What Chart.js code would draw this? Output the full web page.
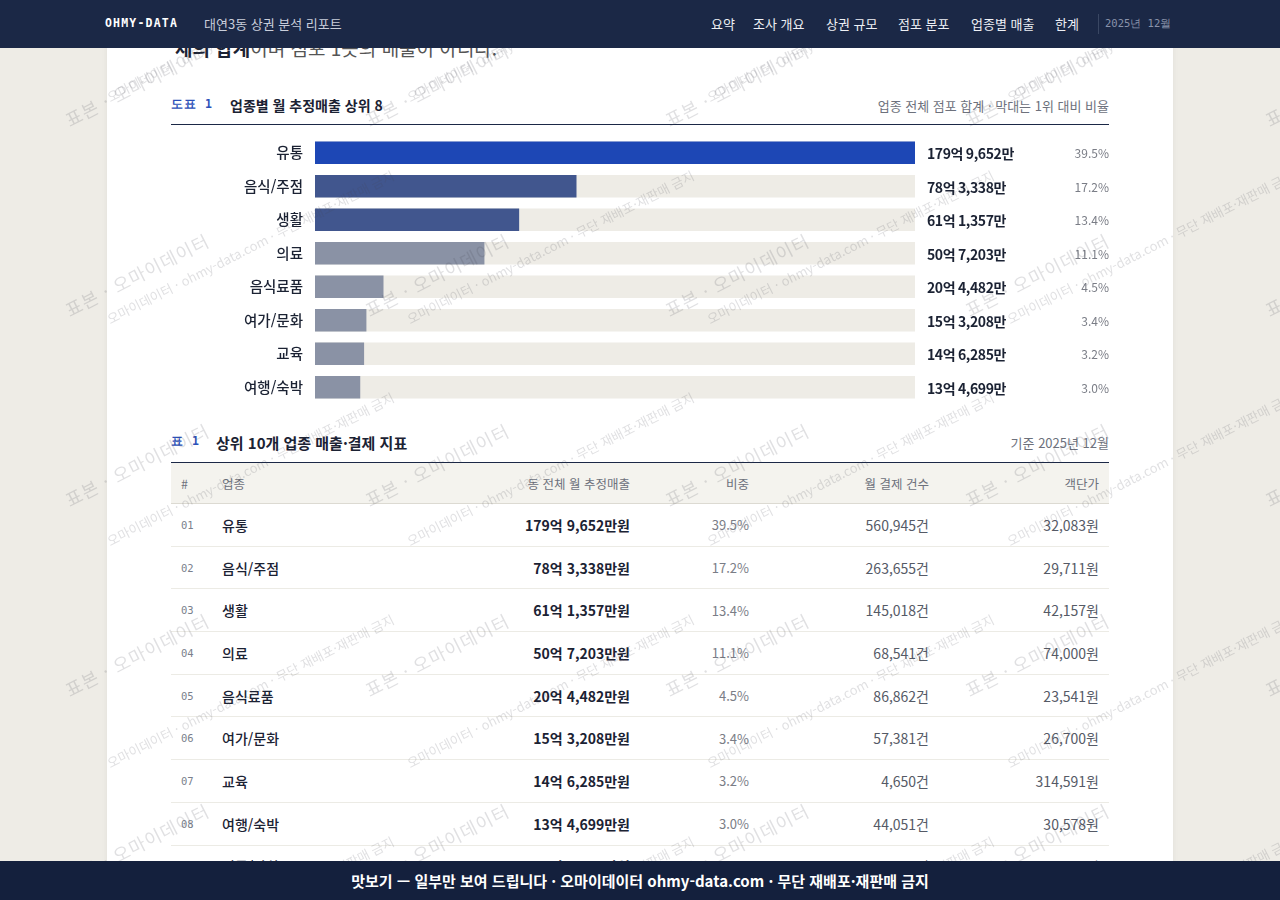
<!DOCTYPE html>
<html lang="ko">
<head>
<meta charset="utf-8">
<script src="https://cdn.jsdelivr.net/npm/chart.js@4.4.1/dist/chart.umd.min.js"></script>
<style>
  html,body{margin:0;padding:0;width:1280px;height:900px;overflow:hidden;background:#eeece6;
    font-family:"Noto Sans CJK KR","Noto Sans",sans-serif;color:#1b2233;}
  .card{position:absolute;left:107px;top:0;width:1066px;height:1400px;background:#fff;box-shadow:0 0 6px rgba(0,0,0,0.06);}
  .hdr{position:fixed;left:0;top:0;width:1280px;height:48px;background:#1b2846;z-index:10;}
  .hdr .brand{position:absolute;left:105px;top:16px;font-family:"DejaVu Sans Mono",monospace;font-weight:bold;font-size:11.5px;letter-spacing:1.2px;color:#fff;}
  .hdr .sub{position:absolute;left:204px;top:14px;font-size:13px;color:#c9cedb;}
  .hdr .nav{position:absolute;top:14px;font-size:13px;color:#eef0f5;}
  .hdr .sep{position:absolute;left:1098px;top:14px;width:1px;height:20px;background:#3a4763;}
  .hdr .date{position:absolute;left:1105px;top:17px;font-family:"DejaVu Sans Mono",monospace;font-size:10.5px;color:#8a93aa;}
  .ftr{position:fixed;left:0;top:861px;width:1280px;height:39px;background:#14203d;z-index:10;
    color:#fff;font-weight:bold;font-size:15px;text-align:center;line-height:39px;}
  .lead{position:absolute;left:175px;top:34px;font-size:19px;color:#555;z-index:1;}
  .lead b{color:#1b2233;}
  .ttl{position:absolute;left:171px;width:938px;height:20px;}
  .ttl .tag{position:absolute;left:0;top:2px;font-family:"DejaVu Sans Mono",monospace;font-size:11.5px;font-weight:600;color:#2c50b8;letter-spacing:1px;}
  .ttl .name{position:absolute;top:0;font-size:14px;font-weight:bold;color:#1b2233;}
  .ttl .note{position:absolute;right:0;top:1px;font-size:13px;color:#6d717c;}
  .rule{position:absolute;left:171px;width:938px;height:1px;background:#1b2846;}
  #chartBox{position:absolute;left:171px;top:136px;width:938px;height:268px;}
  table{position:absolute;left:171px;top:463px;width:938px;border-collapse:collapse;table-layout:fixed;}
  th{height:40px;background:#f4f3ee;font-weight:normal;font-size:12.5px;color:#6d717c;padding:0 10px;border-bottom:1px solid #dcdad2;}
  td{height:41.7px;padding:0 10px;border-bottom:1px solid #ecebe5;font-size:14px;}
  .l{text-align:left}.r{text-align:right}
  td.no{font-family:"DejaVu Sans Mono",monospace;font-size:10.5px;color:#7a7f8c;}
  td.nm{font-weight:500;color:#1b2233;}
  td.amt{font-weight:bold;color:#1b2233;}
  td.pct{color:#7a7d86;font-size:13px;}
  td.cnt,td.avg{color:#555a66;}
  #wm{position:fixed;left:0;top:0;width:1280px;height:900px;pointer-events:none;z-index:5;overflow:hidden;}
  #wm span{position:absolute;white-space:nowrap;transform-origin:0 100%;transform:rotate(-27deg);color:rgba(70,70,85,0.17);}
  #wm .big{font-size:18px;letter-spacing:1px;}
  #wm .small{font-size:13px;}
</style>
</head>
<body>
<div class="card"></div>
<div class="hdr">
  <div class="brand">OHMY-DATA</div>
  <div class="sub">대연3동 상권 분석 리포트</div>
  <div class="nav" style="left:711px">요약</div>
  <div class="nav" style="left:753px">조사 개요</div>
  <div class="nav" style="left:826px">상권 규모</div>
  <div class="nav" style="left:898px">점포 분포</div>
  <div class="nav" style="left:971px">업종별 매출</div>
  <div class="nav" style="left:1055px">한계</div>
  <div class="sep"></div>
  <div class="date">2025년 12월</div>
</div>
<div class="lead"><b>체의 합계</b>이며 점포 1곳의 매출이 아니다.</div>

<div class="ttl" style="top:95px"><span class="tag">도표 1</span><span class="name" style="left:59px">업종별 월 추정매출 상위 8</span><span class="note">업종 전체 점포 합계 · 막대는 1위 대비 비율</span></div>
<div class="rule" style="top:124px"></div>
<div id="chartBox"><canvas id="c"></canvas></div>

<div class="ttl" style="top:432px"><span class="tag">표 1</span><span class="name" style="left:45px;font-size:15px">상위 10개 업종 매출·결제 지표</span><span class="note">기준 2025년 12월</span></div>
<div class="rule" style="top:462px"></div>
<table id="tbl">
  <colgroup><col style="width:41px"><col style="width:208px"><col style="width:220px"><col style="width:119px"><col style="width:180px"><col style="width:170px"></colgroup>
  <thead><tr><th class="l">#</th><th class="l">업종</th><th class="r">동 전체 월 추정매출</th><th class="r">비중</th><th class="r">월 결제 건수</th><th class="r">객단가</th></tr></thead>
  <tbody></tbody>
</table>

<div id="wm"></div>
<div class="ftr">맛보기 — 일부만 보여 드립니다 · 오마이데이터 ohmy-data.com · 무단 재배포·재판매 금지</div>

<script>
// ---- data (chart) ----
const categories = ["유통","음식/주점","생활","의료","음식료품","여가/문화","교육","여행/숙박"];
const salesManwon = [1799652, 783338, 611357, 507203, 204482, 153208, 146285, 134699];
const sharePct = [39.5, 17.2, 13.4, 11.1, 4.5, 3.4, 3.2, 3.0];
const barColors = ["#1d47b5","#41568e","#41568e","#8a92a5","#8a92a5","#8a92a5","#8a92a5","#8a92a5"];

// ---- data (table) ----
const tblCategories = ["유통","음식/주점","생활","의료","음식료품","여가/문화","교육","여행/숙박","의류/잡화","자동차"];
const tblSales = [1799652, 783338, 611357, 507203, 204482, 153208, 146285, 134699, 127310, 98450];
const tblShare = [39.5, 17.2, 13.4, 11.1, 4.5, 3.4, 3.2, 3.0, 2.8, 2.2];
const tblCount = [560945, 263655, 145018, 68541, 86862, 57381, 4650, 44051, 31204, 9870];
const tblAvg = [32083, 29711, 42157, 74000, 23541, 26700, 314591, 30578, 40800, 99750];

const fmtEok = v => Math.floor(v/10000) + "억 " + (v%10000).toLocaleString("en-US") + "만";

// table
const tb = document.querySelector("#tbl tbody");
tblCategories.forEach((n,i)=>{
  const tr = document.createElement("tr");
  tr.innerHTML = `<td class="l no">${String(i+1).padStart(2,"0")}</td><td class="l nm">${n}</td>`+
    `<td class="r amt">${fmtEok(tblSales[i])}원</td>`+
    `<td class="r pct">${tblShare[i].toFixed(1)}%</td><td class="r cnt">${tblCount[i].toLocaleString("en-US")}건</td>`+
    `<td class="r avg">${tblAvg[i].toLocaleString("en-US")}원</td>`;
  tb.appendChild(tr);
});

// watermark
const wm = document.getElementById("wm");
for(let i=0;i<5;i++){ for(let j=0;j<6;j++){
  const s=document.createElement("span"); s.className="big"; s.textContent="표본 · 오마이데이터";
  s.style.left=(72+300*i)+"px"; s.style.top=(130+190*j-24)+"px"; wm.appendChild(s);
}}
for(let i=0;i<5;i++){ for(let j=0;j<5;j++){
  const s=document.createElement("span"); s.className="small"; s.textContent="오마이데이터 · ohmy-data.com · 무단 재배포·재판매 금지";
  s.style.left=(112+300*i)+"px"; s.style.top=(104+222*j-17)+"px"; wm.appendChild(s);
}}

// chart
const maxV = Math.max(...salesManwon);
const sideText = {
  id:"sideText",
  afterDatasetsDraw(chart){
    const {ctx, chartArea, scales:{y}} = chart;
    ctx.save();
    ctx.textBaseline="middle";
    categories.forEach((c,i)=>{
      const yy = y.getPixelForValue(i);
      ctx.font = 'bold 14px "Noto Sans CJK KR"';
      ctx.letterSpacing = "-0.4px";
      ctx.fillStyle="#1b2233"; ctx.textAlign="left";
      ctx.fillText(fmtEok(salesManwon[i]), chartArea.right+12, yy+1);
      ctx.letterSpacing = "0px";
      ctx.font = '12px "Noto Sans CJK KR"';
      ctx.fillStyle="#7a7d86"; ctx.textAlign="right";
      ctx.fillText(sharePct[i].toFixed(1)+"%", chart.width, yy+1);
    });
    ctx.restore();
  }
};
new Chart(document.getElementById("c"), {
  type:"bar",
  data:{
    labels:categories,
    datasets:[
      {data:salesManwon, backgroundColor:barColors, barThickness:22, grouped:false, order:0},
      {data:categories.map(()=>maxV), backgroundColor:"#eeece6", barThickness:22, grouped:false, order:1}
    ]
  },
  options:{
    indexAxis:"y", responsive:true, maintainAspectRatio:false, animation:false,
    layout:{padding:{left:0,right:194,top:0,bottom:0}},
    plugins:{legend:{display:false}, tooltip:{enabled:false}},
    scales:{
      x:{display:false, min:0, max:maxV},
      y:{grid:{display:false, drawTicks:false}, border:{display:false},
         ticks:{padding:12, color:"#1b2233", font:{family:"Noto Sans CJK KR", size:14.5, weight:"500"}},
         afterFit(s){ s.width = 144; s.paddingTop = 0; s.paddingBottom = 0; }}
    }
  },
  plugins:[sideText]
});
</script>
</body>
</html>
